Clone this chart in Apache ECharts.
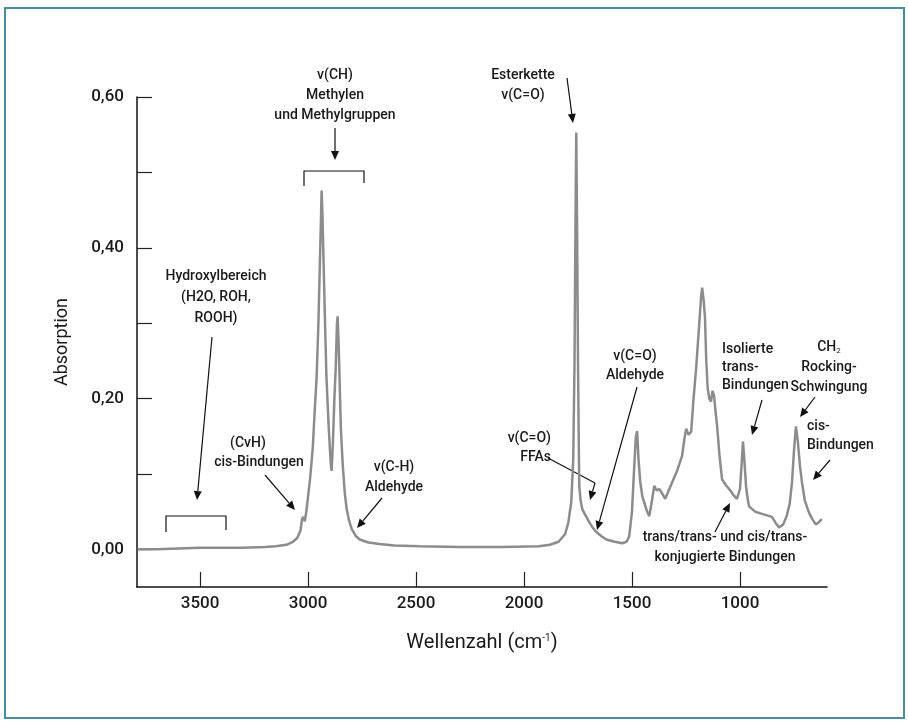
<!DOCTYPE html>
<html><head><meta charset="utf-8">
<script src="https://cdn.jsdelivr.net/npm/echarts@6/dist/echarts.min.js"></script>
<style>html,body{margin:0;padding:0;background:#fff}#c{width:908px;height:724px}</style>
</head><body><div id="c"></div>
<script>
// ---- data ----
const wavenumbers = [3790,3700,3600,3500,3400,3300,3200,3150,3100,3070,3050,3035,3028,3022,3015,3008,3000,2990,2978,2968,2960,2952,2946,2940,2937,2933,2928,2923,2915,2904,2895,2891,2885,2878,2872,2866,2863,2858,2854,2848,2840,2830,2821,2810,2798,2780,2761,2720,2669,2600,2484,2300,2100,1930,1880,1840,1810,1795,1781,1772,1766,1762,1758,1754,1750,1746,1744,1738,1730,1715,1698,1680,1665,1640,1619,1580,1545,1525,1513,1500,1490,1482,1476,1470,1462,1452,1444,1430,1420,1410,1397,1385,1374,1360,1346,1330,1314,1290,1268,1258,1249,1238,1226,1215,1203,1189,1180,1175,1168,1162,1156,1150,1142,1134,1127,1120,1112,1106,1095,1083,1065,1050,1030,1014,1000,993,986,980,972,965,958,930,898,852,835,819,800,784,770,759,750,741,735,732,722,713,700,681,665,649,635,621];
const absorption = [0.000,0.000,0.001,0.002,0.002,0.002,0.003,0.004,0.006,0.010,0.015,0.025,0.040,0.043,0.037,0.050,0.070,0.095,0.135,0.190,0.230,0.300,0.370,0.440,0.476,0.440,0.380,0.320,0.230,0.160,0.115,0.104,0.140,0.200,0.240,0.300,0.309,0.270,0.225,0.160,0.115,0.075,0.053,0.038,0.027,0.018,0.013,0.009,0.007,0.005,0.004,0.003,0.003,0.004,0.006,0.010,0.020,0.035,0.063,0.120,0.250,0.420,0.553,0.420,0.250,0.130,0.084,0.065,0.053,0.045,0.036,0.028,0.023,0.017,0.013,0.010,0.008,0.010,0.017,0.050,0.107,0.150,0.157,0.120,0.090,0.070,0.063,0.050,0.044,0.060,0.084,0.078,0.080,0.074,0.067,0.078,0.089,0.105,0.124,0.145,0.160,0.152,0.156,0.200,0.240,0.297,0.335,0.347,0.330,0.307,0.250,0.215,0.200,0.196,0.210,0.204,0.180,0.164,0.125,0.093,0.085,0.080,0.072,0.067,0.080,0.110,0.143,0.120,0.084,0.068,0.057,0.050,0.047,0.043,0.035,0.029,0.033,0.044,0.060,0.089,0.130,0.163,0.150,0.143,0.110,0.089,0.065,0.049,0.040,0.033,0.036,0.040];
const xTickValues = [3500,3000,2500,2000,1500,1000];
const yTickValues = [0,0.1,0.2,0.3,0.4,0.5,0.6];
const yLabelValues = [0,0.2,0.4,0.6];

// ---- annotation layout (pixels) ----
const FONT = 'Roboto';
const TXT = '#1a1a1a';
const notes = [
  {t:'v(CH)\nMethylen\nund Methylgruppen', x:335, y:95, lh:20, a:'center'},
  {t:'Esterkette\nv(C=O)', x:523, y:85, lh:20, a:'center'},
  {t:'Hydroxylbereich\n(H2O, ROH,\nROOH)', x:216, y:297, lh:21, a:'center'},
  {t:'(CvH)', x:248, y:443, lh:20, a:'center'},
  {t:'cis-Bindungen', x:259, y:462, lh:20, a:'center'},
  {t:'v(C-H)\nAldehyde', x:394, y:477, lh:20, a:'center'},
  {t:'v(C=O)\nFFAs', x:551, y:448, lh:19, a:'right'},
  {t:'v(C=O)\nAldehyde', x:635, y:366, lh:19, a:'center'},
  {t:'Isolierte\ntrans-\nBindungen', x:722, y:367, lh:18, a:'left'},
  {t:'CH{sub|2}\nRocking-\nSchwingung', x:829, y:367, lh:20, a:'center'},
  {t:'cis-\nBindungen', x:807, y:436, lh:19, a:'left'},
  {t:'trans/trans- und cis/trans-\nkonjugierte Bindungen', x:725, y:547, lh:20, a:'center'}
];
const arrows = [
  [335,128,335,160],[567,78,573,123],[212,337,197,500],[265,475,295,510],
  [382,498,357,528],[595,483,590,500],[637,387,597,530],[762,400,752,435],
  [815,397,800,417],[830,460,813,480],[715,532,730,503]
];
const plainLines = [[548,458,595,483]];
const brackets = [[304,364,171,186,183],[166,226,516,532,530]];

const fmt = v => v.toFixed(2).replace('.', ',');
const chart = echarts.init(document.getElementById('c'), null, {renderer:'canvas'});

const graphics = [];
graphics.push({type:'rect', shape:{x:5,y:8,width:899,height:710}, style:{fill:'none', stroke:'#4a8c9c', lineWidth:2}, silent:true});
notes.forEach(n => graphics.push({
  type:'text', x:n.x, y:n.y, silent:true,
  style:{text:n.t, fill:TXT, font:'500 14px '+FONT, align:n.a, verticalAlign:'middle', lineHeight:n.lh,
    rich:{sub:{fontSize:8, fontFamily:FONT, fill:TXT, padding:[7,0,0,0]}}}
}));
arrows.forEach(([x1,y1,x2,y2]) => {
  const dx=x2-x1, dy=y2-y1, L=Math.hypot(dx,dy), ux=dx/L, uy=dy/L;
  const hl=9, hw=4, bx=x2-ux*hl, by=y2-uy*hl;
  graphics.push({type:'line', silent:true, shape:{x1,y1,x2:bx,y2:by}, style:{stroke:'#111', lineWidth:1.2}});
  graphics.push({type:'polygon', silent:true, shape:{points:[[x2,y2],[bx-uy*hw,by+ux*hw],[bx+uy*hw,by-ux*hw]]}, style:{fill:'#111'}});
});
plainLines.forEach(([x1,y1,x2,y2]) => graphics.push({type:'line', silent:true, shape:{x1,y1,x2,y2}, style:{stroke:'#111', lineWidth:1.2}}));
brackets.forEach(([xa,xb,yt,yl,yr]) => graphics.push({type:'polyline', silent:true,
  shape:{points:[[xa,yl],[xa,yt],[xb,yt],[xb,yr]]}, style:{stroke:'#111', lineWidth:1.2, fill:'none'}}));

chart.setOption({
  animation:false,
  backgroundColor:'#fff',
  grid:{left:137, right:81, top:97, bottom:137},
  xAxis:{
    type:'value', inverse:true, min:597, max:3792,
    name:'Wellenzahl (cm{sup|-1})', nameLocation:'middle', nameGap:46,
    nameTextStyle:{fontFamily:FONT, fontSize:20, color:TXT,
      rich:{sup:{fontSize:10, fontFamily:FONT, color:TXT, padding:[0,0,10,0]}}},
    axisLine:{show:true, onZero:false, lineStyle:{color:'#111', width:1.5}},
    axisTick:{show:true, inside:true, length:15, lineStyle:{color:'#222', width:1.2}, customValues:xTickValues},
    axisLabel:{customValues:xTickValues, formatter:v=>String(v), fontFamily:FONT, fontWeight:500, fontSize:17, color:TXT, margin:8},
    splitLine:{show:false}
  },
  yAxis:{
    type:'value', min:-0.05, max:0.6,
    name:'Absorption', nameLocation:'middle', nameRotate:90, nameGap:66,
    nameTextStyle:{fontFamily:FONT, fontSize:18, color:TXT},
    axisLine:{show:true, onZero:false, lineStyle:{color:'#111', width:1.5}},
    axisTick:{show:true, inside:true, length:15, lineStyle:{color:'#222', width:1.2}, customValues:yTickValues},
    axisLabel:{customValues:yLabelValues, formatter:fmt, fontFamily:FONT, fontWeight:500, fontSize:17, color:TXT, margin:13},
    splitLine:{show:false}
  },
  series:[{
    type:'line', showSymbol:false, symbol:'none',
    data: wavenumbers.map((w,i)=>[w, absorption[i]]),
    lineStyle:{color:'#8c8c8c', width:2.5},
    z:2
  }],
  graphic:graphics
});
</script></body></html>
